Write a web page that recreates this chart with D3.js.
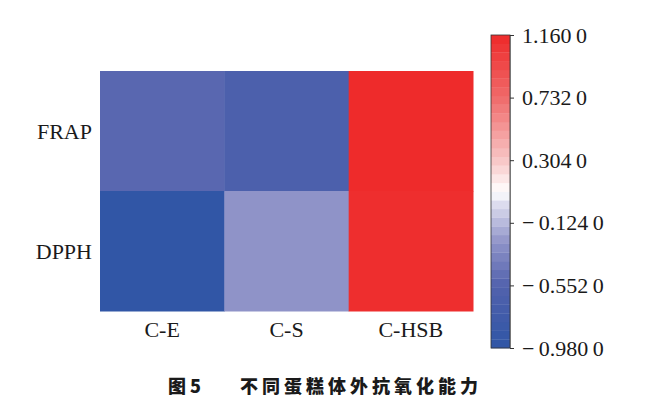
<!DOCTYPE html>
<html>
<head>
<meta charset="utf-8">
<script src="https://cdn.jsdelivr.net/npm/d3@7"></script>
<style>
  body { margin: 0; background: #fff; }
  svg text { font-family: "Liberation Serif", "DejaVu Serif", serif; fill: #1a1a1a; }
</style>
</head>
<body>
<svg id="chart" width="657" height="406"></svg>
<script>
var rows = ["FRAP", "DPPH"];
var cols = ["C-E", "C-S", "C-HSB"];
// values per row, same order as cols
var frapValues = [-0.52, -0.62, 1.155];
var dpphValues = [-0.95, -0.26, 1.13];
var tickValues = [1.160, 0.732, 0.304, -0.124, -0.552, -0.980];

// colour stops
var stopValues = [-0.98, -0.552, -0.26, 0.0, 0.09, 0.304, 0.732, 1.16];
var stopColors = ["#2f55a5", "#5262ad", "#8f93c8", "#dcdcee", "#ffffff", "#f8c6c6", "#f06a6a", "#ee2a2a"];

var svg = d3.select("#chart");

var x = d3.scaleBand().domain(cols).range([100, 473]);
var y = d3.scaleBand().domain(rows).range([71, 311]);
var color = d3.scaleLinear().domain(stopValues).range(stopColors).interpolate(d3.interpolateRgb);

var cells = [];
[frapValues, dpphValues].forEach((vals, i) => {
  vals.forEach((v, j) => cells.push({row: rows[i], col: cols[j], value: v}));
});

svg.append("g").selectAll("rect")
  .data(cells)
  .join("rect")
  .attr("x", d => x(d.col))
  .attr("y", d => y(d.row))
  .attr("width", x.bandwidth() + 0.5)
  .attr("height", y.bandwidth() + 0.5)
  .attr("fill", d => color(d.value));

// row labels
svg.append("g").selectAll("text")
  .data(rows)
  .join("text")
  .attr("x", 92)
  .attr("y", d => y(d) + y.bandwidth() / 2)
  .attr("dy", "0.35em")
  .attr("text-anchor", "end")
  .style("font-size", "22px")
  .text(d => d);

// column labels
svg.append("g").selectAll("text")
  .data(cols)
  .join("text")
  .attr("x", d => x(d) + x.bandwidth() / 2)
  .attr("y", 337)
  .attr("text-anchor", "middle")
  .style("font-size", "22px")
  .text(d => d);

// colour bar
var barX = 491, barW = 19;
var cy = d3.scaleLinear().domain([-0.98, 1.16]).range([348, 35]);
var nBands = 36;
var bands = d3.range(nBands).map(i => {
  var lo = -0.98 + i * (2.14 / nBands);
  return {lo: lo, hi: lo + 2.14 / nBands};
});
svg.append("g").selectAll("rect")
  .data(bands)
  .join("rect")
  .attr("x", barX)
  .attr("y", d => cy(d.hi))
  .attr("width", barW)
  .attr("height", d => cy(d.lo) - cy(d.hi) + 0.3)
  .attr("fill", d => color((d.lo + d.hi) / 2));

svg.append("rect")
  .attr("x", barX).attr("y", 35)
  .attr("width", barW).attr("height", 313)
  .attr("fill", "none")
  .attr("stroke", "#333")
  .attr("stroke-width", 0.8);

function fmt(v) {
  var s = Math.abs(v).toFixed(3) + "\u20090";
  return (v < 0 ? "\u2212\u2009" : "") + s;
}

var axis = d3.axisRight(cy)
  .tickValues(tickValues)
  .tickSize(4)
  .tickPadding(8)
  .tickFormat(fmt);

var ag = svg.append("g")
  .attr("transform", "translate(" + (barX + barW) + ",0)")
  .call(axis);
ag.select(".domain").attr("stroke", "#777").attr("stroke-width", 1);
ag.selectAll(".tick line").attr("stroke", "#333");
ag.selectAll(".tick text")
  .style("font-size", "22px")
  .style("font-family", "'Liberation Serif', serif")
  .attr("fill", "#1a1a1a");

// caption
var cap = svg.append("text")
  .attr("y", 393)
  .style("font-size", "18px")
  .style("font-family", "'Noto Sans CJK SC', sans-serif")
  .style("font-weight", "900");
cap.append("tspan").attr("x", 168).text("图 5");
cap.append("tspan").attr("x", 240).style("letter-spacing", "4px").text("不同蛋糕体外抗氧化能力");
</script>
</body>
</html>
